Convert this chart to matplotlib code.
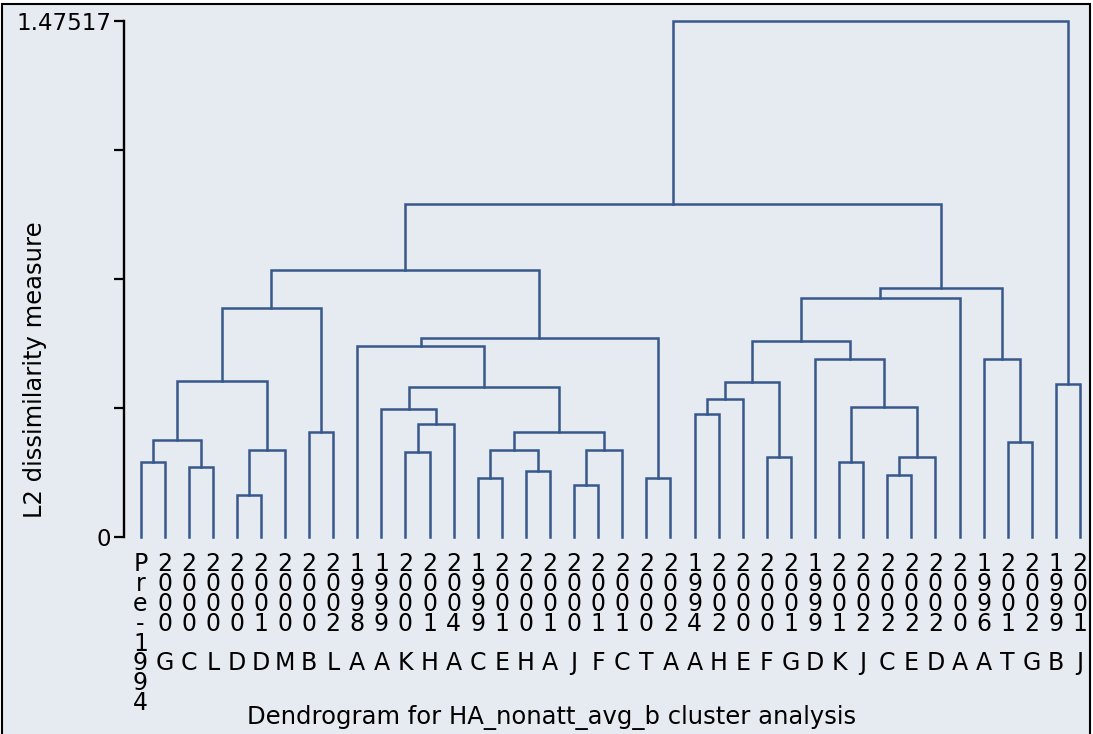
import matplotlib.pyplot as plt
from matplotlib.patches import Rectangle

# leaf labels, left to right
leaf_years = ['Pre-1994', '2000', '2000', '2000', '2000', '2001', '2000', '2000', '2002',
              '1998', '1999', '2000', '2001', '2004', '1999', '2001', '2000', '2001',
              '2000', '2001', '2001', '2000', '2002', '1994', '2002', '2000', '2000',
              '2001', '1999', '2001', '2002', '2002', '2002', '2002', '2000', '1996',
              '2001', '2002', '1999', '2001']
leaf_codes = ['', 'G', 'C', 'L', 'D', 'D', 'M', 'B', 'L',
              'A', 'A', 'K', 'H', 'A', 'C', 'E', 'H', 'A',
              'J', 'F', 'C', 'T', 'A', 'A', 'H', 'E', 'F',
              'G', 'D', 'K', 'J', 'C', 'E', 'D', 'A', 'A',
              'T', 'G', 'B', 'J']

# merges: leaves are 0..39, merge k creates node 40+k
merge_left = [0, 2, 40, 4, 43, 42, 7, 45, 11, 48, 10, 14, 16, 51, 18, 54, 53, 50, 9, 21,
              58, 47, 23, 62, 26, 63, 29, 31, 67, 66, 28, 65, 71, 36, 35, 72, 61, 38, 76]
merge_right = [1, 3, 41, 5, 6, 44, 8, 46, 12, 13, 49, 15, 17, 52, 19, 20, 55, 56, 57, 22,
               59, 60, 24, 25, 27, 64, 30, 32, 33, 68, 69, 70, 34, 37, 73, 74, 75, 39, 77]
merge_height = [0.2136, 0.1993, 0.2773, 0.1201, 0.2487, 0.4460, 0.2993, 0.6538,
                0.2421, 0.3222, 0.3651, 0.1695, 0.1895, 0.2487, 0.1487, 0.2487,
                0.3010, 0.4297, 0.5461, 0.1695, 0.5681, 0.7633, 0.3508, 0.3937,
                0.2279, 0.4440, 0.2136, 0.1773, 0.2279, 0.3725, 0.5097, 0.5603,
                0.6824, 0.2707, 0.5097, 0.7110, 0.9520, 0.4366, 1.47517]

ymax = 1.47517
bg = '#e6ebf2'
line_col = '#38588b'

W, H = 1093, 734
fig = plt.figure(figsize=(W / 100, H / 100), dpi=100)
fig.patch.set_facecolor('white')
fig.patches.append(Rectangle((2 / W, -0.02), (1090 - 2) / W, (H - 4) / H + 0.02,
                             transform=fig.transFigure, facecolor=bg,
                             edgecolor='black', linewidth=1.5, zorder=-1))

ax = fig.add_axes([124 / W, 197 / H, (1090 - 124) / W, 516 / H])
ax.patch.set_alpha(0)

n = len(leaf_years)
xpos = {i: i + 1 for i in range(n)}
ypos = {i: 0.0 for i in range(n)}
for k, (a, b, h) in enumerate(zip(merge_left, merge_right, merge_height)):
    ax.plot([xpos[a], xpos[a], xpos[b], xpos[b]], [ypos[a], h, h, ypos[b]],
            color=line_col, lw=1.8, solid_joinstyle='miter', clip_on=False)
    xpos[n + k] = (xpos[a] + xpos[b]) / 2
    ypos[n + k] = h

ax.set_xlim(1 - 16.5 / 24.09, 1 + 949.5 / 24.09)
ax.set_ylim(0, ymax)

# each label is stacked one character per line
labels = []
for yr, code in zip(leaf_years, leaf_codes):
    s = yr if not code else yr + ' ' + code
    labels.append('\n'.join(s))
ax.set_xticks(range(1, n + 1))
ax.set_xticklabels(labels, fontsize=17, linespacing=0.78, va='top')
ax.tick_params(axis='x', length=0, pad=11)

ax.set_yticks([0, ymax / 4, ymax / 2, 3 * ymax / 4, ymax])
ax.set_yticklabels(['0', '', '', '', '1.47517'], fontsize=16.5)
ax.tick_params(axis='y', length=7, width=1.6, pad=2)

for side in ['top', 'right', 'bottom']:
    ax.spines[side].set_visible(False)
ax.spines['left'].set_linewidth(1.7)

fig.text(35 / W, 1 - 370 / H, 'L2 dissimilarity measure', rotation=90,
         ha='center', va='center', fontsize=17.5)
fig.text(552 / W, 1 - 717 / H, 'Dendrogram for HA_nonatt_avg_b cluster analysis',
         ha='center', va='center', fontsize=17.5)

fig.savefig('out.png', dpi=100)
